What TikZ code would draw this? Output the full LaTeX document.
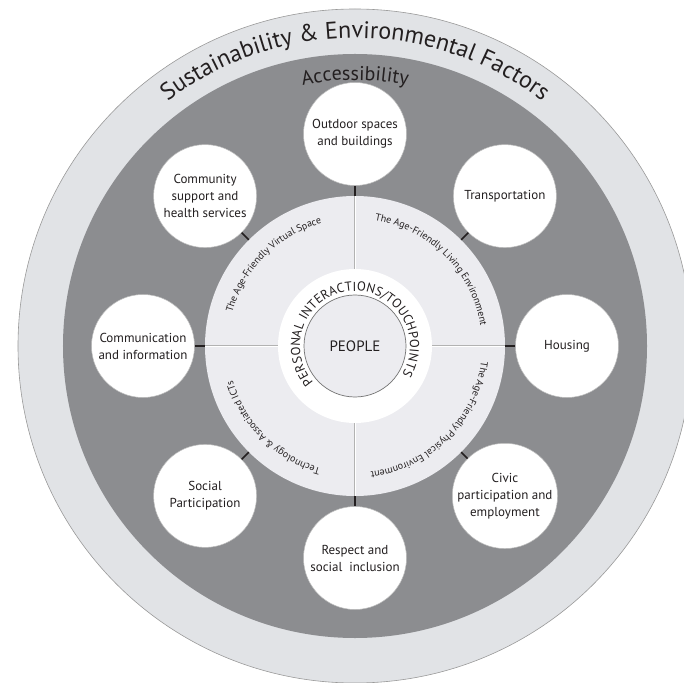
\documentclass[tikz,border=0pt]{standalone}
\usepackage{fontspec}
\setmainfont{PT Sans}
\usetikzlibrary{decorations.text}
\definecolor{OuterClr}{RGB}{225,227,230}
\definecolor{RingClr}{RGB}{140,141,144}
\definecolor{DiscClr}{RGB}{236,236,240}
\definecolor{InkClr}{RGB}{35,31,32}

\tikzset{
  domainbox/.style={circle,draw=gray!55,line width=0.5pt,fill=white,minimum size=103pt,
    inner sep=0pt,align=center,text=InkClr,font=\fontsize{13}{17}\selectfont},
  tickline/.style={line width=1.6pt,draw=InkClr},
  divider/.style={draw=gray!60,double=white,double distance=0.7pt,line width=0.4pt},
  arctext/.style={decorate,decoration={text along path,text align=center,text color=InkClr}}
}

\begin{document}
\begin{tikzpicture}
\clip (-355pt,-336pt) rectangle (329pt,346pt);

% Rings, from the outside in.
\node[circle,inner sep=0pt,minimum size=674pt,fill=OuterClr,draw=gray!80,line width=0.6pt] (outer) at (0,0) {};
\node[circle,inner sep=0pt,minimum size=584pt,fill=RingClr] (ring) at (0,0) {};
\node[circle,inner sep=0pt,minimum size=300pt,fill=DiscClr] (disc) at (0,0) {};

% Quarter lines of the disc.
\draw[divider] (disc.north) -- (disc.south);
\draw[divider] (disc.west) -- (disc.east);

\node[circle,inner sep=0pt,minimum size=154pt,fill=white] (hub) at (0,0) {};
\node[circle,inner sep=0pt,minimum size=102pt,fill=DiscClr,draw=gray!90!black,line width=0.7pt,
  text=InkClr,font=\fontsize{15}{15}\selectfont] (people) at (0,0) {PEOPLE};

% The eight domains.
\node[domainbox] (outdoor)   at (90:212pt)   {Outdoor spaces\\and buildings};
\node[domainbox] (transport) at (45:212pt)   {Transportation};
\node[domainbox] (housing)   at (0:212pt)    {Housing};
\node[domainbox] (civic)     at (-45:212pt)  {Civic\\participation and\\employment};
\node[domainbox] (respect)   at (-90:212pt)  {Respect and\\social\ \ inclusion};
\node[domainbox] (social)    at (-135:212pt) {Social\\Participation};
\node[domainbox] (communic)  at (180:212pt)  {Communication\\and information};
\node[domainbox] (community) at (135:212pt)  {Community\\support and\\health services};

% Short links from the disc to each domain.
\foreach \n/\a/\b in {outdoor/90/270,transport/45/225,housing/0/180,civic/-45/135,
  respect/-90/90,social/-135/45,communic/180/0,community/135/-45}
  \draw[tickline] (disc.\a) -- (\n.\b);

% Curved titles.
\path[arctext,decoration={text={|\fontsize{24}{24}\selectfont|Sustainability {\&} Environmental Factors}}]
  (160:308pt) arc (160:20:308pt);
\path[arctext,decoration={text={|\fontsize{20}{20}\selectfont|Accessibility}}]
  (120:266pt) arc (120:60:266pt);

\path[arctext,decoration={text={|\fontsize{10}{10}\selectfont|The Age-Friendly Virtual Space}}]
  (200:127pt) arc (200:70:127pt);
\path[arctext,decoration={text={|\fontsize{10}{10}\selectfont|The Age-Friendly Living Environment}}]
  (110:127pt) arc (110:-20:127pt);
\path[arctext,decoration={text={|\fontsize{10}{10}\selectfont|The Age-Friendly Physical Environment}}]
  (20:127pt) arc (20:-110:127pt);
\path[arctext,decoration={text={|\fontsize{10}{10}\selectfont|Technology {\&} Associated ICTs}}]
  (-70:127pt) arc (-70:-200:127pt);

\path[decorate,decoration={text along path,text align=fit to path,text color=InkClr,
  text={|\fontsize{13}{13}\selectfont|PERSONAL INTERACTIONS/TOUCHPOINTS}}]
  (221:55pt) arc (221:-31:55pt);

\end{tikzpicture}
\end{document}
